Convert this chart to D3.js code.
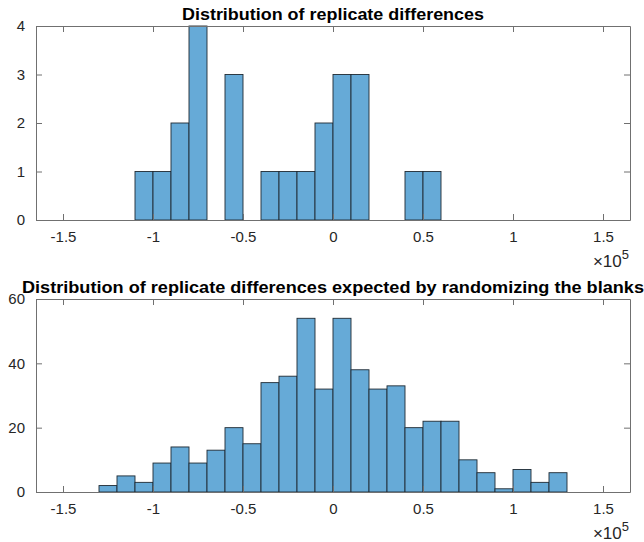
<!DOCTYPE html>
<html>
<head>
<meta charset="utf-8">
<script src="https://cdn.jsdelivr.net/npm/d3@7"></script>
<style>
  body { margin: 0; background: #fff; }
  svg { display: block; }
  text { font-family: "Liberation Sans", Arial, Helvetica, sans-serif; fill: #262626; }
</style>
</head>
<body>
<div id="chart"></div>
<script>
// Histogram data: counts per 1e4-wide bin, starting at the first left edge
var binWidth = 10000;
var observedStart = -110000;
var observedCounts = [1, 1, 2, 4, 0, 3, 0, 1, 1, 1, 2, 3, 3, 0, 0, 1, 1];
var randomStart = -130000;
var randomCounts = [2, 5, 3, 9, 14, 9, 13, 20, 15, 34, 36, 54, 32, 54, 38, 32, 33, 20, 22, 22, 10, 6, 1, 7, 3, 6];

var xTicks = [-150000, -100000, -50000, 0, 50000, 100000, 150000];
var xTickLabels = ["-1.5", "-1", "-0.5", "0", "0.5", "1", "1.5"];
var observedYTicks = [0, 1, 2, 3, 4];
var randomYTicks = [0, 20, 40, 60];

var titleTop = "Distribution of replicate differences";
var titleBottom = "Distribution of replicate differences expected by randomizing the blanks";

//Setup
var width = 644, height = 542;
var barFill = "#66aad7";
var axisColor = "#707070";
var tickLen = 6;

var svg = d3.select("#chart").append("svg")
    .attr("width", width)
    .attr("height", height);

var x = d3.scaleLinear().domain([-165000, 165000]).range([36, 630]);

function toBins(start, counts) {
    return counts.map(function (c, i) {
        return { x0: start + i * binWidth, x1: start + (i + 1) * binWidth, count: c };
    });
}

function drawPanel(opts) {
    var y = d3.scaleLinear().domain(opts.yDomain).range([opts.bottom, opts.top]);
    var g = svg.append("g");

    // bars
    g.selectAll("rect.bar")
        .data(opts.bins.filter(function (d) { return d.count > 0; }))
        .enter().append("rect")
        .attr("class", "bar")
        .attr("x", function (d) { return x(d.x0); })
        .attr("width", function (d) { return x(d.x1) - x(d.x0); })
        .attr("y", function (d) { return y(d.count); })
        .attr("height", function (d) { return y(0) - y(d.count); })
        .attr("fill", barFill)
        .attr("stroke", "#1f2a33")
        .attr("stroke-width", 0.9);

    // box axes, ticks on all four sides pointing inward
    var bottomAxis = d3.axisBottom(x).tickValues(xTicks)
        .tickFormat(function (d, i) { return xTickLabels[i]; })
        .tickSizeInner(-tickLen).tickSizeOuter(0).tickPadding(tickLen + 5);
    var topAxis = d3.axisTop(x).tickValues(xTicks).tickFormat("")
        .tickSizeInner(-tickLen).tickSizeOuter(0);
    var leftAxis = d3.axisLeft(y).tickValues(opts.yTicks).tickFormat(d3.format("d"))
        .tickSizeInner(-tickLen).tickSizeOuter(0).tickPadding(tickLen + 5);
    var rightAxis = d3.axisRight(y).tickValues(opts.yTicks).tickFormat("")
        .tickSizeInner(-tickLen).tickSizeOuter(0);

    var axes = [
        g.append("g").attr("transform", "translate(0," + opts.bottom + ")").call(bottomAxis),
        g.append("g").attr("transform", "translate(0," + opts.top + ")").call(topAxis),
        g.append("g").attr("transform", "translate(" + x.range()[0] + ",0)").call(leftAxis),
        g.append("g").attr("transform", "translate(" + x.range()[1] + ",0)").call(rightAxis)
    ];
    axes.forEach(function (a) {
        a.select(".domain").attr("stroke", axisColor).attr("stroke-width", 1);
        a.selectAll(".tick line").attr("stroke", axisColor);
        a.selectAll(".tick text").attr("font-size", 15).attr("fill", "#262626");
    });

    // title
    svg.append("text")
        .attr("x", (x.range()[0] + x.range()[1]) / 2)
        .attr("y", opts.top - 6)
        .attr("text-anchor", "middle")
        .attr("font-size", 17)
        .attr("font-weight", "bold")
        .attr("textLength", opts.titleWidth)
        .attr("lengthAdjust", "spacingAndGlyphs")
        .style("fill", "#000")
        .text(opts.title);

    // exponent label
    var ex = svg.append("text")
        .attr("x", x.range()[1] - 1)
        .attr("y", opts.bottom + 47)
        .attr("text-anchor", "end")
        .attr("font-size", 17);
    ex.append("tspan").text("\u00d710");
    ex.append("tspan").attr("dy", -8).attr("font-size", 13).text("5");
}

drawPanel({
    bins: toBins(observedStart, observedCounts),
    yDomain: [0, 4], yTicks: observedYTicks,
    top: 26, bottom: 220, title: titleTop, titleWidth: 302
});

drawPanel({
    bins: toBins(randomStart, randomCounts),
    yDomain: [0, 60], yTicks: randomYTicks,
    top: 299, bottom: 492, title: titleBottom, titleWidth: 622
});
</script>
</body>
</html>
